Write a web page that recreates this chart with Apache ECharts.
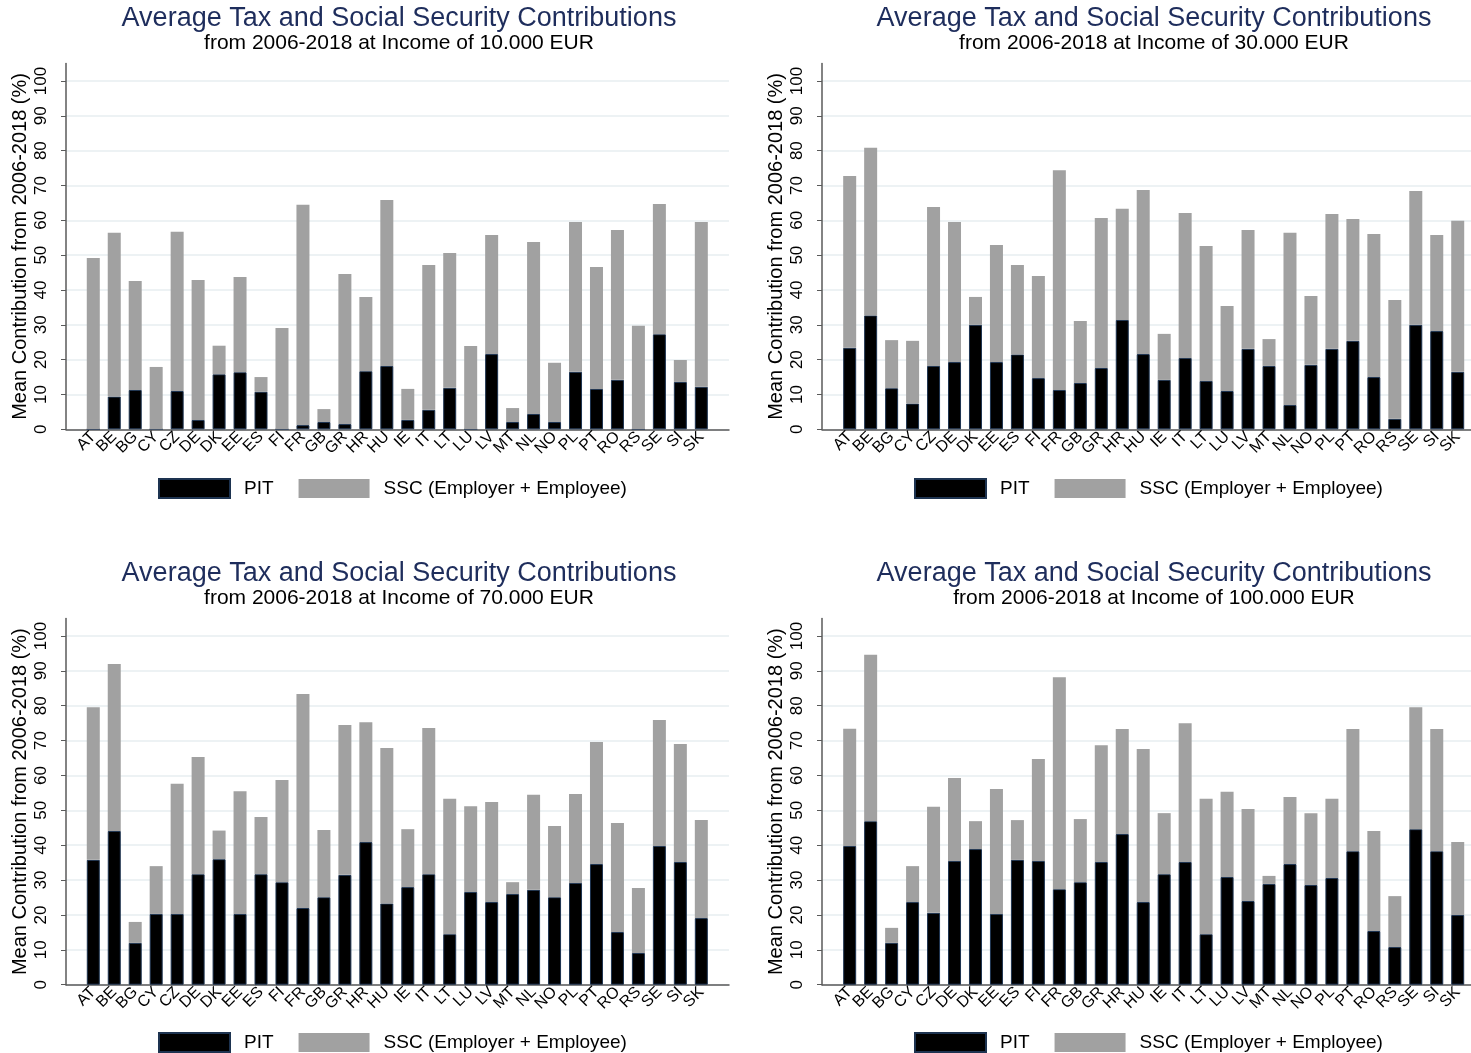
<!DOCTYPE html>
<html>
<head>
<meta charset="utf-8">
<script src="https://cdn.jsdelivr.net/npm/echarts@6/dist/echarts.min.js"></script>
<style>
  html, body { margin: 0; padding: 0; background: #ffffff; }
  #chart { width: 1471px; height: 1053px; }
</style>
</head>
<body>
<div id="chart"></div>
<script>
// Country codes on the category axis
const countries = ['AT','BE','BG','CY','CZ','DE','DK','EE','ES','FI','FR','GB','GR','HR','HU',
                   'IE','IT','LT','LU','LV','MT','NL','NO','PL','PT','RO','RS','SE','SI','SK'];

// Income levels shown in the panel subtitles
const incomeLabels = ['10.000', '30.000', '70.000', '100.000'];

// Personal income tax share (%) per country, one array per income level
const pit10k  = [0, 9.4, 11.3, 0, 11.0, 2.7, 15.8, 16.4, 10.8, 0, 1.2, 2.1, 1.5, 16.7, 18.2,
                 2.7, 5.6, 11.9, 0, 21.6, 2.1, 4.4, 2.1, 16.5, 11.6, 14.2, 0, 27.3, 13.6, 12.2];
const pit30k  = [23.4, 32.7, 11.8, 7.4, 18.2, 19.3, 30.0, 19.3, 21.5, 14.7, 11.3, 13.3, 17.6, 31.4, 21.6,
                 14.2, 20.5, 13.9, 11.0, 23.1, 18.2, 7.0, 18.5, 23.1, 25.4, 15.0, 3.0, 30.0, 28.2, 16.5];
const pit70k  = [35.8, 44.1, 12.0, 20.3, 20.3, 31.7, 36.0, 20.3, 31.7, 29.4, 22.0, 25.1, 31.5, 40.9, 23.3,
                 28.0, 31.7, 14.5, 26.6, 23.7, 26.0, 27.2, 25.1, 29.2, 34.6, 15.1, 9.1, 39.8, 35.2, 19.1];
const pit100k = [39.8, 46.9, 12.0, 23.7, 20.6, 35.5, 38.9, 20.3, 35.8, 35.5, 27.4, 29.4, 35.2, 43.2, 23.7,
                 31.7, 35.2, 14.5, 30.9, 24.0, 28.9, 34.6, 28.6, 30.6, 38.3, 15.4, 10.8, 44.6, 38.3, 20.0];

// Social security contributions (employer + employee, %) per country
const ssc10k  = [49.2, 47.0, 31.3, 17.9, 45.7, 40.2, 8.2, 27.3, 4.2, 29.1, 63.3, 3.7, 43.1, 21.3, 47.6,
                 8.9, 41.6, 38.7, 23.9, 34.2, 4.0, 49.4, 17.0, 43.0, 35.0, 43.0, 29.7, 37.4, 6.3, 47.3];
const ssc30k  = [49.3, 48.1, 13.8, 18.0, 45.6, 40.2, 8.0, 33.6, 25.7, 29.3, 63.1, 17.8, 43.1, 31.9, 47.1,
                 13.2, 41.6, 38.7, 24.4, 34.1, 7.7, 49.4, 19.8, 38.7, 35.0, 41.1, 34.1, 38.4, 27.6, 43.4];
const ssc70k  = [43.8, 47.9, 6.0, 13.7, 37.3, 33.6, 8.2, 35.2, 16.4, 29.3, 61.4, 19.3, 43.0, 34.4, 44.6,
                 16.6, 41.9, 38.8, 24.6, 28.7, 3.4, 27.3, 20.4, 25.5, 35.0, 31.3, 18.6, 36.1, 33.8, 28.1];
const ssc100k = [33.6, 47.7, 4.3, 10.3, 30.4, 23.8, 8.0, 35.8, 11.4, 29.2, 60.8, 18.1, 33.5, 30.1, 43.9,
                 17.5, 39.8, 38.8, 24.4, 26.4, 2.3, 19.2, 20.6, 22.7, 35.0, 28.7, 14.6, 35.0, 35.0, 20.9];

const pitSeries = [pit10k, pit30k, pit70k, pit100k];
const sscSeries = [ssc10k, ssc30k, ssc70k, ssc100k];

const PIT_NAME = 'PIT';
const SSC_NAME = 'SSC (Employer + Employee)';
const FONT = '"Liberation Sans", Arial, Helvetica, sans-serif';

// Panel placement (pixels): plot left edge, top of the 0-105 frame, top of the 0-100 range, bottom
const layout = [
  { left: 66,  frameTop: 63.6,  top: 81,  bottom: 429.3, barsLeft: 82.8,  titleX: 399,  titleTop: 5,   legendLeft: 158, legendTop: 478 },
  { left: 822, frameTop: 63.6,  top: 81,  bottom: 429.3, barsLeft: 839.2, titleX: 1154, titleTop: 5,   legendLeft: 914, legendTop: 478 },
  { left: 66,  frameTop: 618.6, top: 636, bottom: 984.7, barsLeft: 82.8,  titleX: 399,  titleTop: 560, legendLeft: 158, legendTop: 1032 },
  { left: 822, frameTop: 618.6, top: 636, bottom: 984.7, barsLeft: 839.2, titleX: 1154, titleTop: 560, legendLeft: 914, legendTop: 1032 }
];
const plotWidth = 663;
const barsWidth = 629;

const axisColor = '#5a5a5a';
const gridColor = '#e7eef1';

const grid = [], xAxis = [], yAxis = [], series = [], title = [], legend = [];

layout.forEach((p, i) => {
  const g = grid.length;
  // frame grid: carries the axis lines (y runs up to 105)
  grid.push({ left: p.left, top: p.frameTop, width: plotWidth, height: p.bottom - p.frameTop });
  // scale grid: ticks, labels and gridlines for 0-100
  grid.push({ left: p.left, top: p.top, width: plotWidth, height: p.bottom - p.top });
  // bar grid: category slots for the countries
  grid.push({ left: p.barsLeft, top: p.top, width: barsWidth, height: p.bottom - p.top });

  xAxis.push({ gridIndex: g, type: 'value', show: false, min: 0, max: 1 });
  yAxis.push({
    gridIndex: g, type: 'value', min: 0, max: 105,
    axisLine: { show: true, lineStyle: { color: axisColor, width: 1.5 } },
    axisTick: { show: false }, axisLabel: { show: false }, splitLine: { show: false },
    name: 'Mean Contribution from 2006-2018 (%)',
    nameLocation: 'middle', nameGap: 36, nameRotate: 90,
    nameTextStyle: { fontSize: 20, color: '#000', fontFamily: FONT }
  });

  xAxis.push({
    gridIndex: g + 1, type: 'value', min: 0, max: 1,
    axisLine: { show: true, onZero: false, lineStyle: { color: axisColor, width: 1.5 } },
    axisTick: { show: false }, axisLabel: { show: false }, splitLine: { show: false }
  });
  yAxis.push({
    gridIndex: g + 1, type: 'value', min: 0, max: 100, interval: 10,
    axisLine: { show: false },
    axisTick: { show: true, length: 5, lineStyle: { color: axisColor, width: 1 } },
    axisLabel: { rotate: 90, fontSize: 17, color: '#000', fontFamily: FONT, margin: 16 },
    splitLine: { show: true, lineStyle: { color: gridColor, width: 1.5 } }
  });

  xAxis.push({
    gridIndex: g + 2, type: 'category', data: countries,
    axisLine: { show: false }, axisTick: { show: false },
    axisLabel: { interval: 0, rotate: 45, fontSize: 16, color: '#000', fontFamily: FONT, margin: 5 }
  });
  yAxis.push({ gridIndex: g + 2, type: 'value', min: 0, max: 100, show: false });

  series.push({
    name: PIT_NAME, type: 'bar', stack: 'panel' + i,
    xAxisIndex: g + 2, yAxisIndex: g + 2, barWidth: 13,
    itemStyle: { color: '#000000', borderColor: '#1d3350', borderWidth: 1 },
    data: pitSeries[i]
  });
  series.push({
    name: SSC_NAME, type: 'bar', stack: 'panel' + i,
    xAxisIndex: g + 2, yAxisIndex: g + 2, barWidth: 13,
    itemStyle: { color: '#a1a1a1' },
    data: sscSeries[i]
  });

  title.push({
    text: 'Average Tax and Social Security Contributions',
    subtext: 'from 2006-2018 at Income of ' + incomeLabels[i] + ' EUR',
    left: p.titleX, top: p.titleTop, textAlign: 'center', padding: 0, itemGap: 1,
    textStyle: { fontSize: 27, fontWeight: 'normal', color: '#1e2d5c', fontFamily: FONT },
    subtextStyle: { fontSize: 21, color: '#000', fontFamily: FONT }
  });

  legend.push({
    left: p.legendLeft, top: p.legendTop, padding: 0,
    icon: 'rect', itemWidth: 71, itemHeight: 19, itemGap: 25,
    selectedMode: false,
    data: [PIT_NAME, SSC_NAME],
    textStyle: { fontSize: 19, color: '#000', fontFamily: FONT, padding: [0, 0, 0, 9] }
  });
});

const chart = echarts.init(document.getElementById('chart'), null, { renderer: 'canvas' });
chart.setOption({
  backgroundColor: '#ffffff',
  animation: false,
  title, legend, grid, xAxis, yAxis, series
});
</script>
</body>
</html>
